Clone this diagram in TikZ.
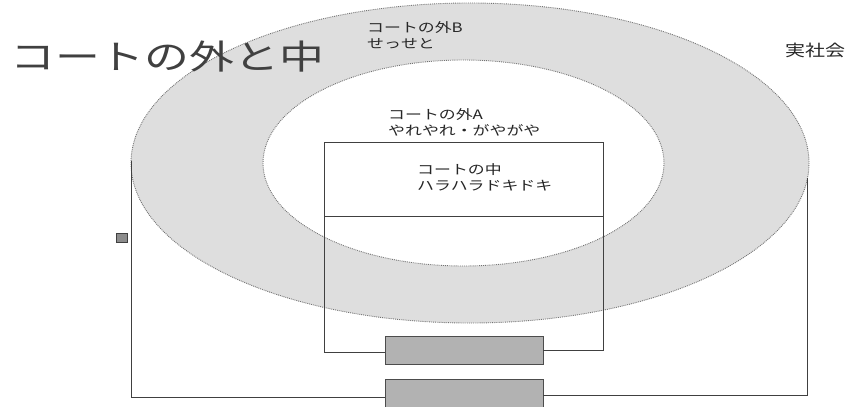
\documentclass[tikz,border=0pt]{standalone}
\usepackage{fontspec}
\newfontfamily\jp{Noto Sans CJK JP}
\usepackage{graphicx}
\begin{document}
\begin{tikzpicture}[x=1pt,y=-1pt,
  ringedge/.style={draw=black!55, densely dotted, line width=0.9pt},
  wire/.style={draw=black!75, line width=0.8pt},
  resist/.style={draw=black!70, fill=black!30, line width=0.7pt, minimum width=158pt, minimum height=28pt, inner sep=0pt},
  lbl/.style={anchor=north west, align=left, inner sep=0pt, text=black!85, font=\jp\fontsize{13}{16.5}\selectfont}
]
\useasboundingbox (0,0) rectangle (849,407);
% rings
\fill[black!13] (470,163) ellipse [x radius=339, y radius=160];
\draw[ringedge] (470,163) ellipse [x radius=339, y radius=160];
\fill[white] (463.5,163) ellipse [x radius=200.5, y radius=103];
\draw[ringedge] (463.5,163) ellipse [x radius=200.5, y radius=103];
% texts
\node[anchor=west, inner sep=0pt, text=black!75] (title) at (10,57) {\scalebox{1.32}[1]{\jp\fontsize{34}{36}\selectfont コートの外と中}};
\node[lbl] (outB) at (367,21) {\scalebox{1.3}[1]{コートの外B}\\\scalebox{1.3}[1]{せっせと}};
\node[anchor=west, inner sep=0pt, text=black!85] (soc) at (785,50) {\scalebox{1.25}[1]{\jp\fontsize{16}{18}\selectfont 実社会}};
\node[lbl] (outA) at (388,108) {\scalebox{1.3}[1]{コートの外A}\\\scalebox{1.3}[1]{やれやれ・がやがや}};
\node[lbl] (inn) at (417,163) {\scalebox{1.3}[1]{コートの中}\\\scalebox{1.3}[1]{ハラハラドキドキ}};
% inner loop
\coordinate (bTL) at (324,142);
\coordinate (bTR) at (603,142);
\coordinate (bBL) at (324,352);
\coordinate (bBR) at (603,350);
\coordinate (dL) at (324,216);
\coordinate (dR) at (603,216);
\node[resist] (r1) at (464,350) {};
\node[resist] (r2) at (464,393) {};
\draw[wire] (r1.west |- bBL) -- (bBL) -- (bTL) -- (bTR) -- (bBR) -- (r1.east |- bBR);
\draw[wire] (dL) -- (dR);
% outer loop
\coordinate (oTL) at (131,161);
\coordinate (oBL) at (131,397);
\coordinate (oTR) at (807,178);
\coordinate (oBR) at (807,395);
\draw[wire] (r2.west |- oBL) -- (oBL) -- (oTL);
\draw[wire] (r2.east |- oBR) -- (oBR) -- (oTR);
% small square
\node[draw=black!75, fill=black!45, line width=0.6pt, minimum width=11pt, minimum height=9pt, inner sep=0pt] (sq) at (121.5,237.5) {};
\end{tikzpicture}
\end{document}
